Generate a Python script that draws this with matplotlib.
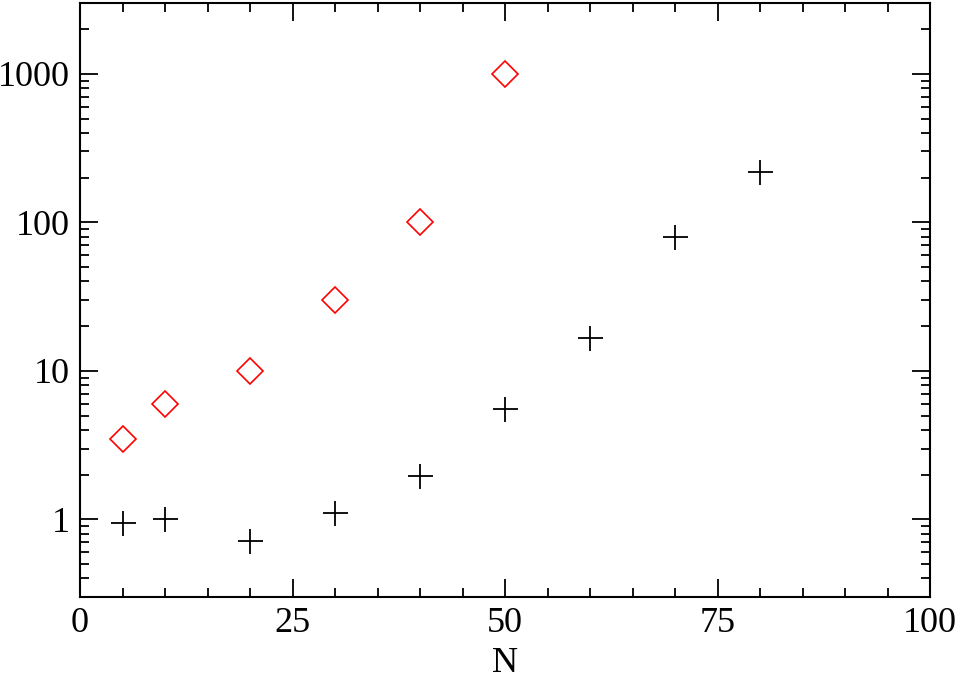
"""N 对数散点图 — xmgrace 风格"""

import matplotlib
matplotlib.use("Agg")
matplotlib.rcParams["font.family"] = ["Liberation Serif", "DejaVu Serif"]
matplotlib.rcParams["mathtext.fontset"] = "stix"

import matplotlib.pyplot as plt
import matplotlib.ticker as mticker

# 数据
n_red = [5, 10, 20, 30, 40, 50]
val_red = [3.5, 6.0, 10.0, 30.0, 100.0, 1000.0]

n_black = [5, 10, 20, 30, 40, 50, 60, 70, 80]
val_black = [0.95, 1.0, 0.71, 1.1, 1.97, 5.5, 16.6, 80.0, 217.0]

x_ticks = [0, 25, 50, 75, 100]
y_ticks = [1, 10, 100, 1000]
y_labels = ["1", "10", "100", "1000"]

fig = plt.figure(figsize=(9.59, 6.81), dpi=100)
ax = fig.add_axes([80 / 959, 1 - 597 / 681, 850 / 959, 594 / 681])

ax.plot(n_red, val_red, linestyle="none", marker="D", markersize=13,
        markerfacecolor="none", markeredgecolor="#ff0000", markeredgewidth=1.2)
ax.plot(n_black, val_black, linestyle="none", marker="+", markersize=18,
        color="black", markeredgewidth=1.3)

ax.set_yscale("log")
ax.set_xlim(0, 100)
ax.set_ylim(0.3, 3000)

ax.set_xticks(x_ticks)
ax.set_xticklabels([str(t) for t in x_ticks])
ax.xaxis.set_minor_locator(mticker.MultipleLocator(5))
ax.set_yticks(y_ticks)
ax.set_yticklabels(y_labels)
ax.yaxis.set_minor_locator(mticker.LogLocator(base=10, subs=range(2, 10)))
ax.yaxis.set_minor_formatter(mticker.NullFormatter())

ax.tick_params(which="both", direction="in", top=True, right=True,
               width=1.3, labelsize=26, colors="black")
ax.tick_params(which="major", length=13, pad=7)
ax.tick_params(which="minor", length=6.5)
for s in ax.spines.values():
    s.set_linewidth(1.5)

ax.set_xlabel("N", fontsize=26, labelpad=5)

fig.savefig("out.png", dpi=100)
